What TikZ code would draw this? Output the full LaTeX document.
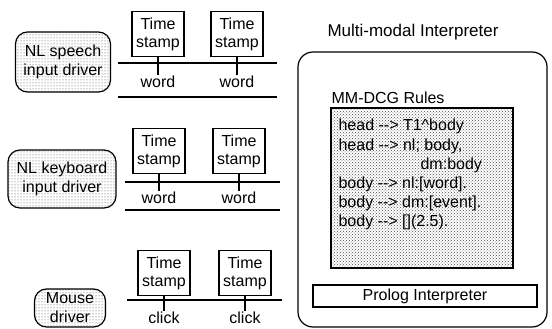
\documentclass[tikz,border=0pt]{standalone}
\usepackage{fontspec}
\setmainfont{Liberation Sans}
\usetikzlibrary{patterns}
\tikzset{
  driver/.style={draw, rounded corners=12pt, pattern=dots, pattern color=black!75,
    align=center, inner sep=2pt, font=\fontsize{16}{19}\selectfont},
  stampbox/.style={draw, fill=white, minimum width=52pt, minimum height=45pt,
    align=center, inner sep=0pt, font=\fontsize{16}{18}\selectfont},
  evt/.style={inner sep=1pt},
  rule/.style={anchor=base west, inner sep=0pt},
}
\begin{document}
\begin{tikzpicture}[x=1pt, y=-1pt, line width=1.2pt, font=\fontsize{16}{19}\selectfont]
\useasboundingbox (0,0) rectangle (552,329);

% input drivers
\node[driver, minimum width=95pt, minimum height=60pt] (speech) at (63,62) {NL speech\\input driver};
\node[driver, minimum width=108pt, minimum height=58pt] (keyb) at (62,179) {NL keyboard\\input driver};
\node[driver, minimum width=71pt, minimum height=38pt] (mouse) at (70,308) {Mouse\\driver};

% speech stream
\draw (118,63) -- (277,63);
\draw (118,97) -- (277,97);
\node[stampbox] (sa) at (158,34) {Time\\stamp};
\node[stampbox] (sb) at (237,34) {Time\\stamp};
\node[evt] (wa) at (158,82) {word};
\node[evt] (wb) at (237,82) {word};
\draw (sa) -- (wa);
\draw (sb) -- (wb);

% keyboard stream
\draw (125,182) -- (280,182);
\draw (125,210) -- (280,210);
\node[stampbox] (ka) at (159,151) {Time\\stamp};
\node[stampbox] (kb) at (239,151) {Time\\stamp};
\node[evt] (kwa) at (159,198) {word};
\node[evt] (kwb) at (239,198) {word};
\draw (ka) -- (kwa);
\draw (kb) -- (kwb);

% mouse stream
\draw (127,300) -- (282,300);
\node[stampbox] (ma) at (164,273) {Time\\stamp};
\node[stampbox] (mb) at (245,273) {Time\\stamp};
\node[evt] (ca) at (164,318) {click};
\node[evt] (cb) at (245,318) {click};
\draw (ma) -- (ca);
\draw (mb) -- (cb);

% interpreter
\node[font=\fontsize{17}{20}\selectfont] (title) at (413,32) {Multi-modal Interpreter};
\draw[rounded corners=15pt] (298,52) rectangle (547,327);
\node[anchor=west, inner sep=0pt] (mmlabel) at (331,98) {MM-DCG Rules};
\node[draw, pattern=crosshatch dots, pattern color=black!70, minimum width=182pt,
  minimum height=160pt, inner sep=0pt] (rules) at (422,188) {};
\node[rule] (r1) at (338,131) {head -{}-> T1\^{}body};
\node[rule] (r2) at (338,150) {head -{}-> nl; body,};
\node[rule] (r3) at (420,169) {dm:body};
\node[rule] (r4) at (338,188) {body -{}-> nl:[word].};
\node[rule] (r5) at (338,207) {body -{}-> dm:[event].};
\node[rule] (r6) at (338,226) {body -{}-> [](2.5).};
\node[draw, minimum width=224pt, minimum height=22pt, inner sep=0pt] (prolog) at (425,296) {Prolog Interpreter};
\end{tikzpicture}
\end{document}
